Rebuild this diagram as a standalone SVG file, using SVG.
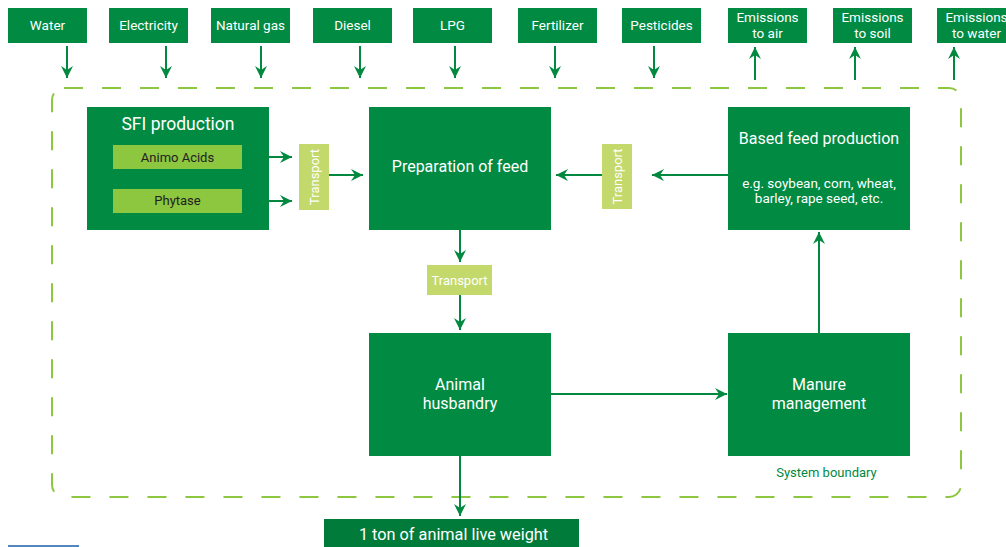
<svg xmlns="http://www.w3.org/2000/svg" width="1006" height="547" viewBox="0 0 1006 547">
<defs>
<marker id="ah" markerUnits="userSpaceOnUse" markerWidth="13" markerHeight="13" refX="12" refY="6" orient="auto">
<path d="M0,0 L12,6 L0,12 L4,6 Z" fill="#00893f"/>
</marker>
<style>
.box{fill:#008a42}
.lt{fill:#8dc63f}
.tr{fill:#c3d96b}
.t{font-family:Roboto,"Liberation Sans",sans-serif;fill:#fff;text-anchor:middle}
.s13{font-size:13px}
.s135{font-size:13.5px}
.s16{font-size:16px}
.s18{font-size:17.5px}
.dk{fill:#222}
.c{stroke:#00893f;stroke-width:2;fill:none;marker-end:url(#ah)}
</style>
</defs>
<rect width="1006" height="547" fill="#fff"/>
<rect x="52" y="88" width="909" height="409" rx="12" fill="none" stroke="#8dc63f" stroke-width="2" stroke-dasharray="19 19"/>
<g id="water"><rect class="box" x="8" y="8" width="79" height="35"/><text class="t s135" x="47.5" y="30">Water</text></g>
<g id="electricity"><rect class="box" x="109" y="8" width="79" height="35"/><text class="t s135" x="148.5" y="30">Electricity</text></g>
<g id="natural-gas"><rect class="box" x="211" y="8" width="79" height="35"/><text class="t s135" x="250.5" y="30">Natural gas</text></g>
<g id="diesel"><rect class="box" x="313" y="8" width="79" height="35"/><text class="t s135" x="352.5" y="30">Diesel</text></g>
<g id="lpg"><rect class="box" x="413" y="8" width="79" height="35"/><text class="t s135" x="452.5" y="30">LPG</text></g>
<g id="fertilizer"><rect class="box" x="518" y="8" width="79" height="35"/><text class="t s135" x="557.5" y="30">Fertilizer</text></g>
<g id="pesticides"><rect class="box" x="622" y="8" width="79" height="35"/><text class="t s135" x="661.5" y="30">Pesticides</text></g>
<g id="em-air"><rect class="box" x="728" y="8" width="79" height="35"/><text class="t s135" x="767.5" y="21.5">Emissions</text><text class="t s135" x="767.5" y="37.5">to air</text></g>
<g id="em-soil"><rect class="box" x="833" y="8" width="79" height="35"/><text class="t s135" x="872.5" y="21.5">Emissions</text><text class="t s135" x="872.5" y="37.5">to soil</text></g>
<g id="em-water"><rect class="box" x="937" y="8" width="79" height="35"/><text class="t s135" x="976.5" y="21.5">Emissions</text><text class="t s135" x="976.5" y="37.5">to water</text></g>
<g id="sfi"><rect class="box" x="87" y="107" width="182" height="123"/><text class="t s18" x="178" y="130">SFI production</text>
<rect class="lt" x="113" y="145" width="129" height="24"/><text class="t s13 dk" x="177.5" y="161.5">Animo Acids</text>
<rect class="lt" x="113" y="189" width="129" height="24"/><text class="t s13 dk" x="177.5" y="205">Phytase</text></g>
<g id="transport1"><rect class="tr" x="299" y="144" width="30" height="66"/><text class="t s13" transform="translate(318.5,177) rotate(-90)">Transport</text></g>
<g id="prep"><rect class="box" x="369" y="107" width="182" height="123"/><text class="t s16" x="460" y="172">Preparation of feed</text></g>
<g id="transport2"><rect class="tr" x="602" y="144" width="30" height="65"/><text class="t s13" transform="translate(621.5,176.5) rotate(-90)">Transport</text></g>
<g id="based"><rect class="box" x="728" y="107" width="182" height="123"/><text class="t s16" x="819" y="144">Based feed production</text><text class="t s135" x="819" y="188">e.g. soybean, corn, wheat,</text><text class="t s135" x="819" y="203">barley, rape seed, etc.</text></g>
<g id="transport3"><rect class="tr" x="427" y="265" width="65" height="30"/><text class="t s13" x="459.5" y="284.5">Transport</text></g>
<g id="animal"><rect class="box" x="369" y="333" width="182" height="123"/><text class="t s16" x="460" y="390">Animal</text><text class="t s16" x="460" y="409">husbandry</text></g>
<g id="manure"><rect class="box" x="728" y="333" width="182" height="123"/><text class="t s16" x="819" y="390">Manure</text><text class="t s16" x="819" y="409">management</text></g>
<g id="output"><rect x="324" y="519" width="255" height="28" fill="#007b3a"/><text class="t" font-size="16.3" x="453.5" y="539.5">1 ton of animal live weight</text></g>
<text x="826.5" y="477" font-family="Roboto,'Liberation Sans',sans-serif" font-size="13" fill="#00893f" text-anchor="middle">System boundary</text>
<line x1="8" y1="546" x2="79" y2="546" stroke="#1a5fa8" stroke-width="1.5"/>
<g id="connectors">
<path class="c" d="M67,46 V78"/>
<path class="c" d="M166,46 V78"/>
<path class="c" d="M261,46 V78"/>
<path class="c" d="M360,46 V78"/>
<path class="c" d="M455,46 V78"/>
<path class="c" d="M555,46 V78"/>
<path class="c" d="M654,46 V78"/>
<path class="c" d="M755,80 V47"/>
<path class="c" d="M855,80 V47"/>
<path class="c" d="M954,80 V47"/>
<path class="c" d="M269,157 H292"/>
<path class="c" d="M269,201 H292"/>
<path class="c" d="M329,175 H363"/>
<path class="c" d="M602,175 H556"/>
<path class="c" d="M728,175 H652"/>
<path class="c" d="M460,230 V262"/>
<path class="c" d="M460,295 V330"/>
<path class="c" d="M551,394 H727"/>
<path class="c" d="M819,333 V232"/>
<path class="c" d="M460,456 V516"/>
</g>
</svg>
